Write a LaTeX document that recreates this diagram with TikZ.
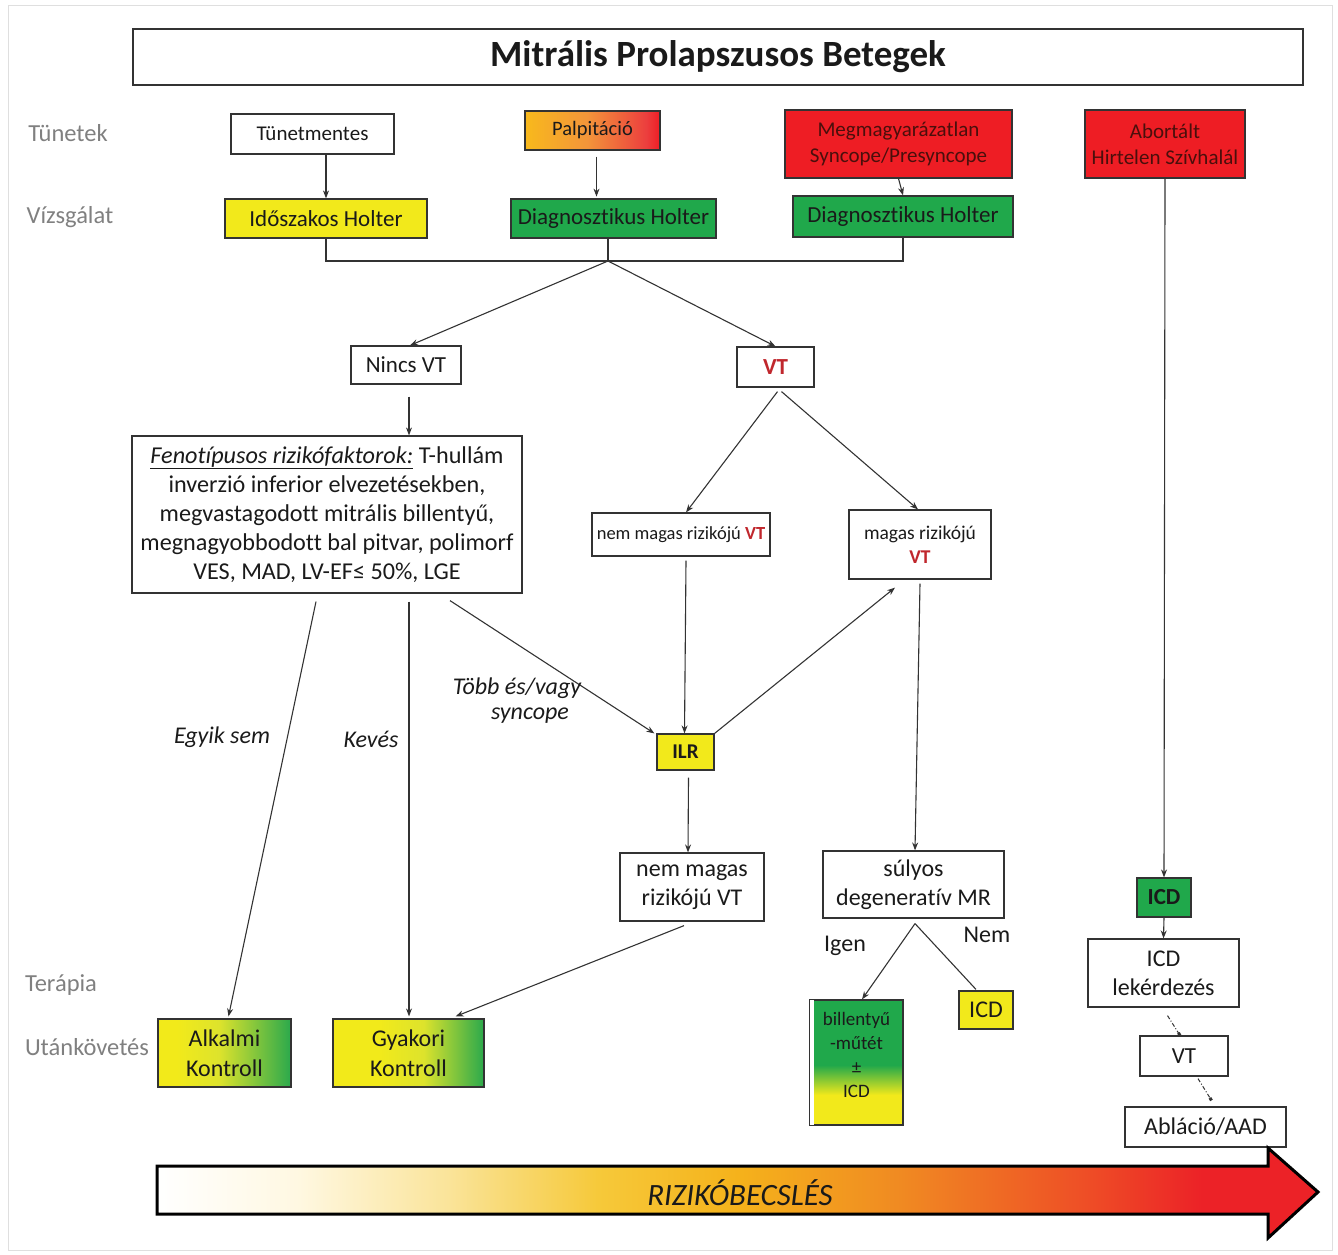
\documentclass[tikz,border=0pt]{standalone}
\usepackage{fontspec}
\setmainfont[Ligatures=NoCommon]{Carlito}
\usetikzlibrary{arrows.meta,calc}
\definecolor{txt}{HTML}{1A1A1A}
\definecolor{byellow}{HTML}{F2E91B}
\definecolor{bgreen}{HTML}{20A84B}
\definecolor{bred}{HTML}{EE1D24}
\definecolor{redtxt}{HTML}{4A0F0C}
\definecolor{vtred}{HTML}{C0272D}
\definecolor{rk1}{HTML}{FFF8E2}
\definecolor{rk2}{HTML}{FAE49A}
\definecolor{rk3}{HTML}{F6C93A}
\definecolor{rk4}{HTML}{F5B21B}
\definecolor{rk5}{HTML}{F08A22}
\definecolor{rk6}{HTML}{EE4E26}
\definecolor{rk7}{HTML}{EC2227}
\definecolor{kyel}{HTML}{F2EA1A}
\definecolor{kmid}{HTML}{DDE32C}
\definecolor{kgrn}{HTML}{2BA94C}
\definecolor{pal1}{HTML}{F8B91C}
\definecolor{pal2}{HTML}{F3953A}
\definecolor{pal3}{HTML}{EC3E3E}
\pgfdeclarehorizontalshading{riskshade}{100bp}{color(0bp)=(white); color(25bp)=(white); color(31bp)=(rk1); color(37.5bp)=(rk2); color(44bp)=(rk3); color(50bp)=(rk4); color(57bp)=(rk5); color(65bp)=(rk6); color(70bp)=(rk7); color(75bp)=(rk7); color(100bp)=(rk7)}
\pgfdeclarehorizontalshading{alkshade}{100bp}{color(0bp)=(kyel); color(25bp)=(kyel); color(32bp)=(kyel); color(48bp)=(kmid); color(75bp)=(kgrn); color(100bp)=(kgrn)}
\pgfdeclarehorizontalshading{gyakshade}{100bp}{color(0bp)=(kyel); color(25bp)=(kyel); color(40bp)=(kyel); color(55bp)=(kmid); color(75bp)=(kgrn); color(100bp)=(kgrn)}
\pgfdeclarehorizontalshading{palshade}{100bp}{color(0bp)=(pal1); color(25bp)=(pal1); color(48bp)=(pal2); color(70bp)=(pal3); color(75bp)=(bred); color(100bp)=(bred)}
\pgfdeclareverticalshading{billshade}{100bp}{color(0bp)=(byellow); color(25bp)=(byellow); color(37bp)=(byellow); color(49bp)=(bgreen); color(75bp)=(bgreen); color(100bp)=(bgreen)}
\begin{document}
\begin{tikzpicture}[x=1pt,y=-1pt,
  box/.style={draw=black!80, line width=1.2pt, inner sep=0pt, align=center, text=txt},
  wh/.style 2 args={minimum width=#1pt, minimum height=#2pt},
  arr/.style={draw=black!80, line width=1.1pt, -{Stealth[length=8pt,width=6pt]}},
  ln/.style={draw=black!80, line width=1.1pt},
  dd/.style={draw=black!80, line width=1pt, dash pattern=on 4pt off 2pt on 1pt off 2pt, -{Square[length=3pt,width=3pt]}},
  side/.style={text=black!50, font=\fontsize{24.5}{28}\selectfont},
  lbl/.style={font=\itshape\fontsize{24}{29}\selectfont, align=center, text=txt},
  f24/.style={font=\fontsize{24}{29}\selectfont},
  f23/.style={font=\fontsize{23}{27}\selectfont},
  f21/.style={font=\fontsize{21}{26}\selectfont}]

\useasboundingbox (0,0) rectangle (1338,1254);
\draw[gray!25, line width=1pt] (8,5) rectangle (1332,1250);

% title
\node[box, wh={1170}{56}, font=\bfseries\fontsize{37}{42}\selectfont] (title) at (718,57) {Mitrális Prolapszusos Betegek};

% side labels
\node[side] (sTun) at (68,133) {Tünetek};
\node[side] (sViz) at (70,217) {Vízsgálat};
\node[side] (sTer) at (61,985) {Terápia};
\node[side] (sUta) at (87,1047) {Utánkövetés};

% top row
\node[box, wh={163}{40}, f21] (tun) at (312.5,134) {Tünetmentes};
\node[box, wh={202}{39}, fill=byellow, f23] (ido) at (326,218.5) {Időszakos Holter};
\node[box, wh={135}{39}, shade, shading=palshade, font=\fontsize{20.5}{24}\selectfont] (palp) at (592.5,130.5) {Palpitáció};
\node[box, wh={205}{39}, fill=bgreen, f23] (diag1) at (613.5,218.5) {Diagnosztikus Holter};
\node[box, wh={227}{68}, fill=bred, text=redtxt, font=\fontsize{21}{26}\selectfont] (megm) at (898.5,144) {Megmagyarázatlan\\Syncope/Presyncope};
\node[box, wh={220}{41}, fill=bgreen, f23] (diag2) at (903,216.5) {Diagnosztikus Holter};
\node[box, wh={160}{68}, fill=bred, text=redtxt, font=\fontsize{21}{26}\selectfont] (abort) at (1165,144) {Abortált\\Hirtelen Szívhalál};

% middle
\node[box, wh={110}{38}, f23] (nincs) at (406,365) {Nincs VT};
\node[box, wh={77}{40}, font=\bfseries\fontsize{23}{27}\selectfont, text=vtred] (vt) at (775.5,367) {VT};
\node[box, wh={390}{157}, font=\fontsize{24.2}{29}\selectfont] (feno) at (327,514.5)
  {\underline{\itshape Fenotípusos rizikófaktorok:} T-hullám\\inverzió inferior elvezetésekben,\\megvastagodott mitrális billentyű,\\megnagyobbodott bal pitvar, polimorf\\VES, MAD, LV-EF≤ 50\%, LGE};
\node[box, wh={178}{43}, font=\fontsize{18.5}{24}\selectfont] (nmvt) at (681,534.5) {nem magas rizikójú \textcolor{vtred}{\bfseries VT}};
\node[box, wh={142}{69}, font=\fontsize{19.5}{24}\selectfont] (mvt) at (920,544.5) {magas rizikójú\\\textcolor{vtred}{\bfseries VT}};
\node[box, wh={57}{36}, fill=byellow, font=\bfseries\fontsize{21}{25}\selectfont] (ilr) at (685.5,752) {ILR};
\node[box, wh={144}{68}, f24] (nmvt2) at (692,887) {nem magas\\rizikójú VT};
\node[box, wh={181}{67}, f24] (sulyos) at (913.5,884.5) {súlyos\\degeneratív MR};

% bottom
\node[box, wh={133}{68}, shade, shading=alkshade, font=\fontsize{24}{30}\selectfont] (alk) at (224.5,1053) {Alkalmi\\Kontroll};
\node[box, wh={151}{68}, shade, shading=gyakshade, font=\fontsize{24}{30}\selectfont] (gyak) at (408.5,1053) {Gyakori\\Kontroll};
\node[box, wh={93}{125}, shade, shading=billshade, font=\fontsize{19}{24}\selectfont] (bill) at (856.5,1062.5) {billentyű\\-műtét\\±\\ICD\\[-8pt]\mbox{}};
\fill[white] ($(bill.north west)+(1,1)$) rectangle ($(bill.south west)+(5,-1)$);
\node[box, wh={54}{38}, fill=byellow, f24] (icdy) at (986,1010) {ICD};
\node[box, wh={54}{39}, fill=bgreen, font=\bfseries\fontsize{23}{27}\selectfont] (icdg) at (1164,897.5) {ICD};
\node[box, wh={151}{68}, f24] (lek) at (1163.5,973) {ICD\\lekérdezés};
\node[box, wh={88}{40}, f23] (vt2) at (1184,1056) {VT};
\node[box, wh={161}{40}, f24] (abl) at (1205.5,1127) {Abláció/AAD};

% connectors top
\coordinate (J) at (608,261);
\draw[arr] (tun.south -| ido.north) -- (ido.north);
\draw[arr] ($(palp.south)+(4,6)$) -- ($(palp.south)+(4,46)$);
\draw[arr] (megm.south) -- (diag2.north);
\draw[ln] (ido.south) |- (J) -| (diag2.south);
\draw[ln] (diag1.south -| J) -- (J);
\draw[arr] (J) -- ($(nincs.north)+(4,0)$);
\draw[arr] (J) -- (vt.north);

% middle connectors
\draw[arr] ($(nincs.south)+(3,12)$) -- ($(feno.north)+(82,0)$);
\draw[arr] ($(vt.south)+(2,4)$) -- ($(nmvt.north)+(5,0)$);
\draw[arr] ($(vt.south)+(6,4)$) -- ($(mvt.north)+(-2,0)$);
\draw[arr] ($(nmvt.south)+(5,4)$) -- ($(ilr.north)+(-1,0)$);
\draw[arr] ($(feno.south)+(123,7)$) -- ($(ilr.north west)+(-2,0)$);
\draw[arr] (ilr.north east) -- ($(mvt.south)+(-25,8)$);
\draw[arr] ($(mvt.south)+(0,4)$) -- ($(sulyos.north)+(1.5,0)$);
\draw[arr] ($(ilr.south)+(3,7)$) -- ($(nmvt2.north)+(-4,0)$);
\draw[arr] ($(nmvt2.south)+(-8,4)$) -- ($(gyak.north east)+(-29,-2)$);
\draw[arr] ($(feno.south)+(-11,8)$) -- ($(alk.north)+(4,-2)$);
\draw[arr] ($(feno.south)+(82,8)$) -- ($(gyak.north)+(0.5,-2)$);
\draw[arr] ($(sulyos.south)+(1.5,5)$) -- ($(bill.north)+(5.5,0)$);
\draw[ln] ($(sulyos.south)+(1.5,5)$) -- ($(icdy.north)+(-10,-1)$);
\draw[arr] (abort.south) -- (icdg.north);
\draw[arr] (icdg.south) -- (lek.north);
\draw[dd] ($(lek.south)+(4,8)$) -- ($(vt2.north)+(-4,0)$);
\draw[dd] ($(vt2.south)+(14,2)$) -- ($(abl.north)+(6,-6)$);

% labels
\node[lbl] (l1) at (517,688) {Több és/vagy};
\node[lbl] (l2) at (530,716) {syncope};
\node[lbl] (l3) at (222,737) {Egyik sem};
\node[lbl] (l4) at (371,739) {Kevés};
\node[f24, text=txt] (l5) at (845,946) {Igen};
\node[f24, text=txt] (l6) at (987,935) {Nem};

% risk arrow
\shadedraw[shading=riskshade, draw=black, line width=3pt, line join=miter]
  (157,1166) -- (1268,1166) -- (1268,1148) -- (1318,1192) -- (1268,1238) -- (1268,1214) -- (157,1214) -- cycle;
\node[font=\itshape\fontsize{31}{35}\selectfont, text=txt] (risk) at (740,1193) {RIZIKÓBECSLÉS};
\end{tikzpicture}
\end{document}
